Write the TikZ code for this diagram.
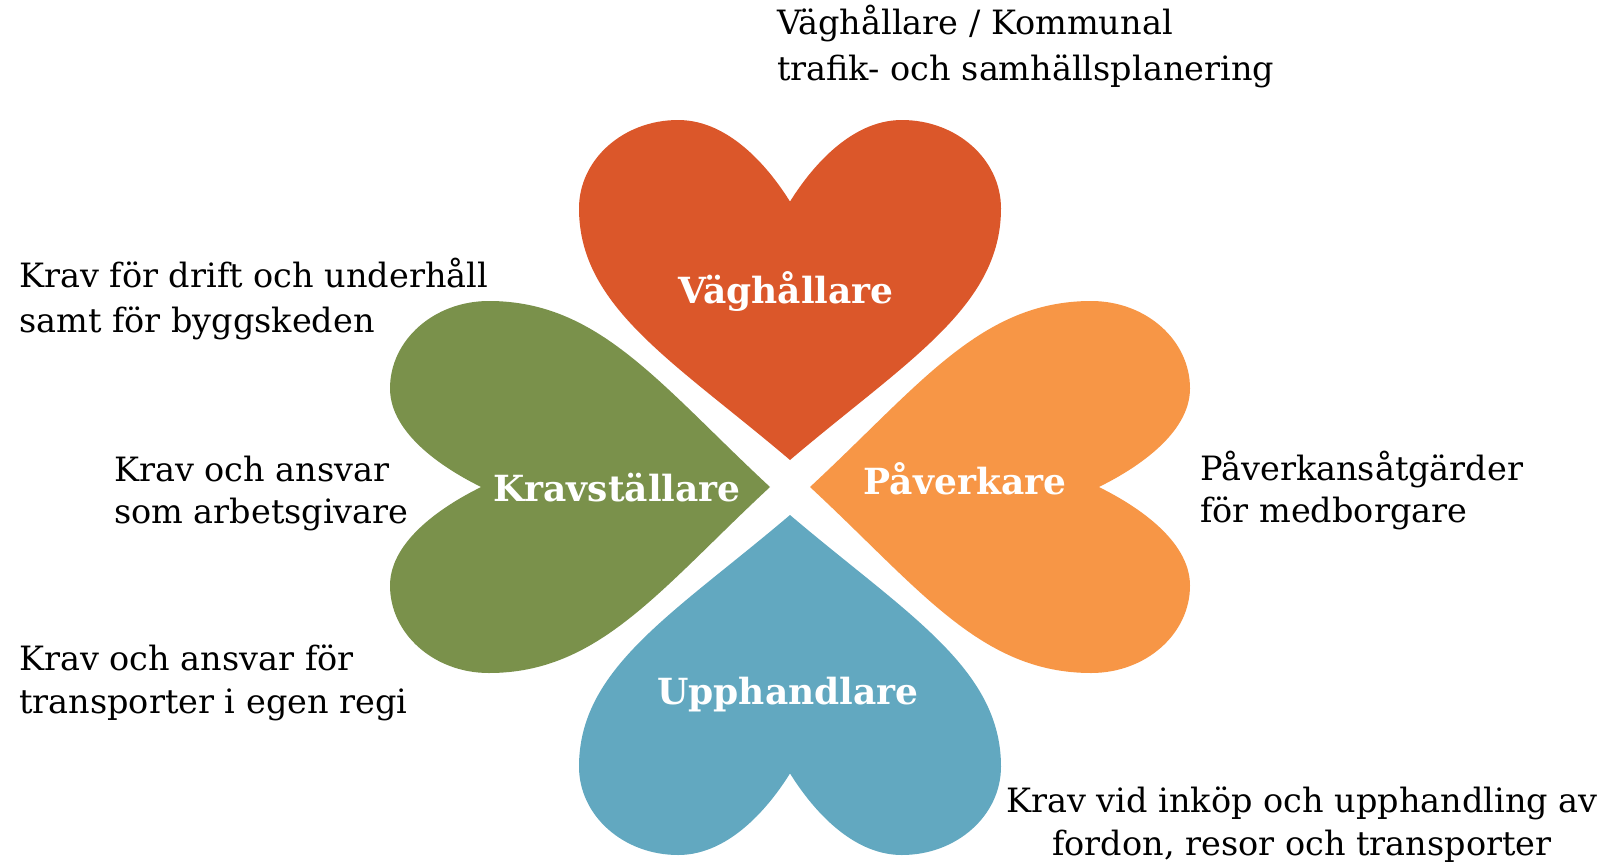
\documentclass[tikz,border=0pt]{standalone}
\usepackage{fontspec}
\setmainfont{DejaVu Serif}
\definecolor{hred}{HTML}{DB572A}
\definecolor{hgreen}{HTML}{7A914B}
\definecolor{horange}{HTML}{F79646}
\definecolor{hblue}{HTML}{62A8C0}
\newcommand\heartshape{(0,0) .. controls (-0.55,0.29) and (-1,0.45) .. (-1,0.74)
  .. controls (-1,0.884) and (-0.79,1) .. (-0.53,1)
  .. controls (-0.28,1) and (-0.09,0.85) .. (0,0.76)
  .. controls (0.09,0.85) and (0.28,1) .. (0.53,1)
  .. controls (0.79,1) and (1,0.884) .. (1,0.74)
  .. controls (1,0.45) and (0.55,0.29) .. (0,0) -- cycle}
\tikzset{
  desc/.style={anchor=base west, inner sep=0pt, font=\fontsize{33.5}{42}\selectfont, text=black},
  descc/.style={anchor=base, inner sep=0pt, font=\fontsize{33.5}{42}\selectfont, text=black},
  hlabel/.style={anchor=base, inner sep=0pt, font=\fontsize{36}{42}\selectfont\bfseries, text=white}
}
\begin{document}
\begin{tikzpicture}[x=1pt,y=-1pt]
\useasboundingbox (0,0) rectangle (1607,865);
% hearts
\fill[hred, shift={(790,460)}, xscale=211, yscale=-340] \heartshape;
\fill[hblue, shift={(790,515)}, xscale=211, yscale=340] \heartshape;
\fill[hgreen, shift={(770,487)}, rotate=-90, xscale=186, yscale=380] \heartshape;
\fill[horange, shift={(810,487)}, rotate=90, xscale=186, yscale=380] \heartshape;
% heart labels
\node[hlabel] (lv) at (786,303) {Väghållare};
\node[hlabel] (lk) at (617,501) {Kravställare};
\node[hlabel] (lp) at (965,494) {Påverkare};
\node[hlabel] (lu) at (788,704) {Upphandlare};
% descriptions
\node[desc] (t1a) at (777,34) {Väghållare / Kommunal};
\node[desc] (t1b) at (777,80) {trafik- och samhällsplanering};
\node[desc] (t2a) at (19,287) {Krav för drift och underhåll};
\node[desc] (t2b) at (19,332) {samt för byggskeden};
\node[desc] (t3a) at (114,481) {Krav och ansvar};
\node[desc] (t3b) at (114,523) {som arbetsgivare};
\node[desc] (t4a) at (19,670) {Krav och ansvar för};
\node[desc] (t4b) at (19,713) {transporter i egen regi};
\node[desc] (t5a) at (1200,480) {Påverkansåtgärder};
\node[desc] (t5b) at (1200,522) {för medborgare};
\node[descc] (t6a) at (1302,812) {Krav vid inköp och upphandling av};
\node[descc] (t6b) at (1302,855) {fordon, resor och transporter};
\end{tikzpicture}
\end{document}
